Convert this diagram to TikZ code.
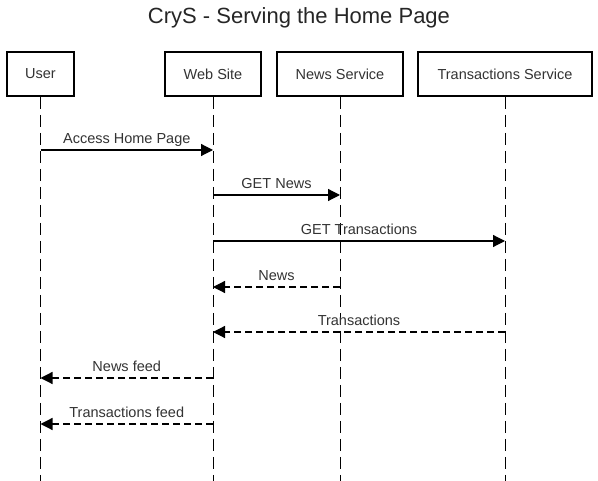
\documentclass[tikz,border=0pt]{standalone}
\usepackage{fontspec}
\setmainfont{Liberation Sans}
\usetikzlibrary{arrows.meta}
\begin{document}
\begin{tikzpicture}[x=1pt,y=1pt,
  actor/.style={draw=black,line width=2pt,minimum height=44pt,inner sep=0pt,font=\fontsize{14.5}{16}\selectfont,text=black!80},
  lifeline/.style={line width=1pt,dash pattern=on 12pt off 6pt,black},
  msg/.style={line width=1.2pt,-{Triangle[length=12pt,width=12pt]}},
  reply/.style={msg,dash pattern=on 7pt off 4pt},
  lbl/.style={anchor=base,yshift=6pt,font=\fontsize{14.5}{16}\selectfont,text=black!80,inner sep=0pt}]
\useasboundingbox (0,0) rectangle (598,-481);
\fill[white] (0,0) rectangle (598,-481);
\node[font=\fontsize{22}{24}\selectfont,text=black!85] (title) at (299,-18) {CryS - Serving the Home Page};
\node[actor,minimum width=67pt] (user) at (40.5,-74) {User};
\node[actor,minimum width=96pt] (web) at (213,-74) {Web Site};
\node[actor,minimum width=126pt] (news) at (340,-74) {News Service};
\node[actor,minimum width=174pt] (trans) at (505,-74) {Transactions Service};
\coordinate (bot) at (0,-481);
\foreach \a in {user,web,news,trans}{
  \draw[lifeline] (\a.south) -- (\a |- bot);
}
\coordinate (r1) at (0,-150);
\coordinate (r2) at (0,-195);
\coordinate (r3) at (0,-241);
\coordinate (r4) at (0,-287);
\coordinate (r5) at (0,-332);
\coordinate (r6) at (0,-378);
\coordinate (r7) at (0,-424);
\draw[msg] (user |- r1) -- node[lbl] {Access Home Page} (web |- r1);
\draw[msg] (web |- r2) -- node[lbl] {GET News} (news |- r2);
\draw[msg] (web |- r3) -- node[lbl] {GET Transactions} (trans |- r3);
\draw[reply] (news |- r4) -- node[lbl] {News} (web |- r4);
\draw[reply] (trans |- r5) -- node[lbl] {Transactions} (web |- r5);
\draw[reply] (web |- r6) -- node[lbl] {News feed} (user |- r6);
\draw[reply] (web |- r7) -- node[lbl] {Transactions feed} (user |- r7);
\end{tikzpicture}
\end{document}
